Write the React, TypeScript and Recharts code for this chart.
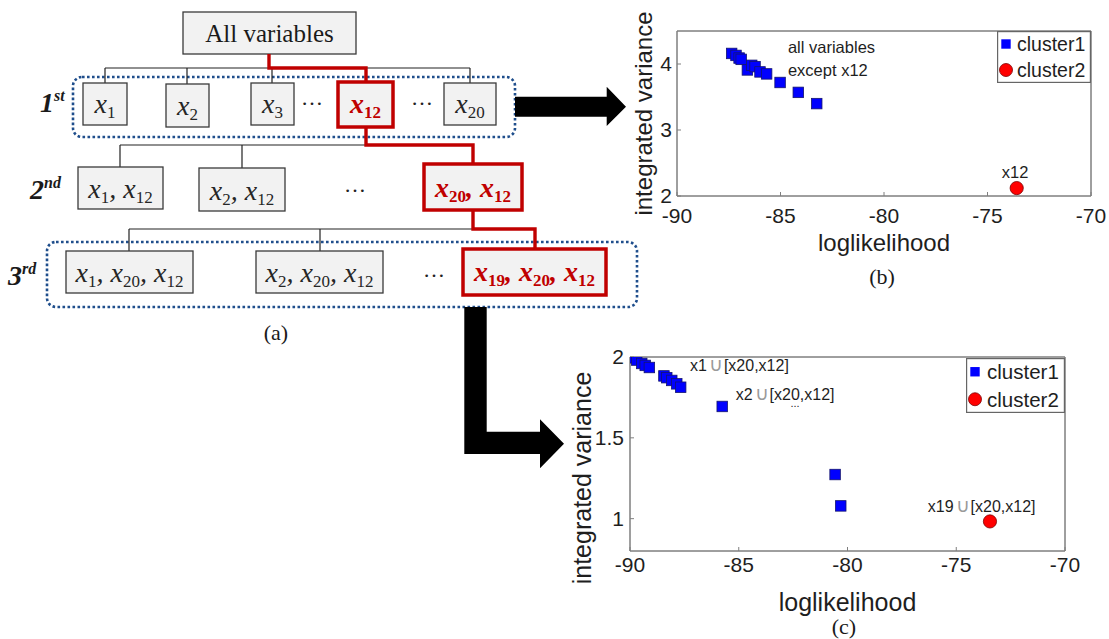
import React from "react";
import { ScatterChart, Scatter, XAxis, YAxis, Legend, ReferenceDot, ReferenceArea } from "recharts";

// (b) first step: every variable removed on its own
const stepOneCluster1 = [
  { x: -87.36, y: 4.16 },
  { x: -87.15, y: 4.13 },
  { x: -87.0, y: 4.09 },
  { x: -86.9, y: 4.07 },
  { x: -86.6, y: 3.91 },
  { x: -86.39, y: 3.98 },
  { x: -86.23, y: 3.96 },
  { x: -85.99, y: 3.88 },
  { x: -85.67, y: 3.85 },
  { x: -85.02, y: 3.72 },
  { x: -84.14, y: 3.57 },
  { x: -83.25, y: 3.4 },
];
const stepOneCluster2 = [{ x: -73.59, y: 2.12 }];

// (c) third step
const stepThreeCluster1 = [
  { x: -89.88, y: 1.995 },
  { x: -89.69, y: 1.981 },
  { x: -89.46, y: 1.96 },
  { x: -89.3, y: 1.948 },
  { x: -89.11, y: 1.935 },
  { x: -88.44, y: 1.883 },
  { x: -88.31, y: 1.872 },
  { x: -88.08, y: 1.855 },
  { x: -87.85, y: 1.834 },
  { x: -87.67, y: 1.813 },
  { x: -85.76, y: 1.694 },
  { x: -80.57, y: 1.273 },
  { x: -80.31, y: 1.079 },
];
const stepThreeCluster2 = [{ x: -73.45, y: 0.983 }];

const xTicks = [-90, -85, -80, -75, -70];
const xDomain = [-90, -70];
const yTicksB = [2, 3, 4];
const yDomainB = [2, 4.5];
const yTicksC = [1, 1.5, 2];
const yDomainC = [0.8, 2];

const notesB = [
  { x: -84.64, y: 4.25, text: "all variables", anchor: "start" },
  { x: -84.64, y: 3.91, text: "except x12", anchor: "start" },
  { x: -73.67, y: 2.36, text: "x12", anchor: "middle" },
];
const notesC = [
  { x: -87.24, y: 1.946, pre: "x1", post: "[x20,x12]" },
  { x: -85.14, y: 1.771, pre: "x2", post: "[x20,x12]" },
  { x: -76.31, y: 1.073, pre: "x19", post: "[x20,x12]" },
];

const SANS = "'Liberation Sans', Arial, sans-serif";
const SERIF = "'Liberation Serif', 'Times New Roman', serif";
const AXIS = "#7f7f7f";
const INK = "#1e1e1e";
const RED = "#c00000";
const BLUE_DOT = "#1f4e8c";

const SquareMark = (props: any) => {
  const { cx, cy } = props;
  const s = 10.5;
  return <rect x={cx - s / 2} y={cy - s / 2} width={s} height={s} fill="#0000ff" stroke="#14146e" strokeWidth={0.8} />;
};
const CircleMark = (props: any) => {
  const { cx, cy } = props;
  return <circle cx={cx} cy={cy} r={6.6} fill="#ff0000" stroke="#7a0000" strokeWidth={0.8} />;
};
const NoMark = () => <g />;

function LegendBox({ payload, w, h, fs, textX }: any) {
  const items = (payload || []).filter((p: any) => p.type !== "none");
  return (
    <svg width={w} height={h} style={{ display: "block" }}>
      <rect x={0.6} y={0.6} width={w - 1.2} height={h - 1.2} fill="#fff" stroke="#666" strokeWidth={1.2} />
      {items.map((p: any, i: number) => {
        const cy = (h / items.length) * (i + 0.5);
        return (
          <g key={p.value}>
            {p.type === "circle" ? (
              <circle cx={9} cy={cy} r={6.5} fill="#ff0000" stroke="#7a0000" strokeWidth={0.8} />
            ) : (
              <rect x={4.3} y={cy - 4.7} width={9.4} height={9.4} fill="#0000ff" />
            )}
            <text x={textX} y={cy + fs * 0.36} fontFamily={SANS} fontSize={fs} fill={INK}>{p.value}</text>
          </g>
        );
      })}
    </svg>
  );
}

const tickStyle = { fontFamily: SANS, fontSize: 21, fill: INK };

const yTitle = (fs: number, dxFromAxis: number, shift: number) => (lp: any) => {
  const vb = lp.viewBox;
  const x = vb.x + dxFromAxis;
  const y = vb.y + vb.height / 2 + shift;
  return (
    <text transform={`translate(${x},${y}) rotate(-90)`} textAnchor="middle" dy="0.3em" fontFamily={SANS} fontSize={fs} fill={INK}>
      integrated variance
    </text>
  );
};

const unionNote = (n: { pre: string; post: string }) => (lp: any) => (
  <text x={lp.viewBox.x} y={lp.viewBox.y + 5.5} fontFamily={SANS} fontSize={16} fill={INK}>
    {n.pre}
    <tspan fill="#9a9a9a" fontSize={19} dx={2}>∪</tspan>
    <tspan dx={1}>{n.post}</tspan>
  </text>
);

function ChartB() {
  return (
    <ScatterChart width={519} height={300} margin={{ top: 30, right: 17, left: 0, bottom: 44 }}>
      <XAxis type="number" dataKey="x" domain={xDomain} ticks={xTicks} allowDataOverflow stroke={AXIS} tickSize={-4} tickMargin={16} height={60} tick={tickStyle}
        label={{ value: "loglikelihood", position: "insideBottom", offset: 5, style: { fontFamily: SANS, fontSize: 24, fill: INK } }} />
      <XAxis xAxisId="top" orientation="top" type="number" dataKey="x" domain={xDomain} ticks={xTicks} allowDataOverflow stroke={AXIS} tickSize={-4} tick={false} height={1} />
      <YAxis type="number" dataKey="y" domain={yDomainB} ticks={yTicksB} allowDataOverflow stroke={AXIS} tickSize={-4} tickMargin={9} width={87} tick={tickStyle}
        label={{ position: "insideLeft", content: yTitle(24, 55, 0) }} />
      <YAxis yAxisId="right" orientation="right" type="number" dataKey="y" domain={yDomainB} ticks={yTicksB} allowDataOverflow stroke={AXIS} tickSize={-4} tick={false} width={1} />
      <ReferenceArea x1={xDomain[0]} x2={xDomain[1]} y1={yDomainB[0]} y2={yDomainB[1]} fill="none" stroke={AXIS} strokeWidth={1} />
      <Legend layout="vertical" align="center" verticalAlign="middle" wrapperStyle={{ left: 407, top: 31, width: 94, height: 52 }}
        content={(p: any) => <LegendBox payload={p.payload} w={94} h={52} fs={19.5} textX={20} />} />
      <Scatter name="cluster1" data={stepOneCluster1} legendType="square" fill="#0000ff" shape={SquareMark} isAnimationActive={false} />
      <Scatter name="cluster2" data={stepOneCluster2} legendType="circle" fill="#ff0000" shape={CircleMark} isAnimationActive={false} />
      <Scatter name="frame" data={stepOneCluster2} xAxisId="top" yAxisId="right" legendType="none" shape={NoMark} isAnimationActive={false} />
      {notesB.map((n) => (
        <ReferenceDot key={n.text} x={n.x} y={n.y} r={0} stroke="none" fill="none"
          label={{ value: n.text, position: n.anchor === "start" ? "insideLeft" : "center", offset: 0, style: { fontFamily: SANS, fontSize: 16.5, fill: INK } }} />
      ))}
    </ScatterChart>
  );
}

function ChartC() {
  return (
    <ScatterChart width={569} height={309} margin={{ top: 26, right: 43, left: 0, bottom: 28 }}>
      <XAxis type="number" dataKey="x" domain={xDomain} ticks={xTicks} allowDataOverflow stroke={AXIS} tickSize={-4} tickMargin={10} height={60} tick={tickStyle}
        label={{ value: "loglikelihood", position: "insideBottom", offset: 0, style: { fontFamily: SANS, fontSize: 25, fill: INK } }} />
      <XAxis xAxisId="top" orientation="top" type="number" dataKey="x" domain={xDomain} ticks={xTicks} allowDataOverflow stroke={AXIS} tickSize={-4} tick={false} height={1} />
      <YAxis type="number" dataKey="y" domain={yDomainC} ticks={yTicksC} allowDataOverflow stroke={AXIS} tickSize={-4} tickMargin={10} width={90} tick={tickStyle}
        label={{ position: "insideLeft", content: yTitle(25, 43, 24) }} />
      <YAxis yAxisId="right" orientation="right" type="number" dataKey="y" domain={yDomainC} ticks={yTicksC} allowDataOverflow stroke={AXIS} tickSize={-4} tick={false} width={1} />
      <ReferenceArea x1={xDomain[0]} x2={xDomain[1]} y1={yDomainC[0]} y2={yDomainC[1]} fill="none" stroke={AXIS} strokeWidth={1} />
      <Legend layout="vertical" align="center" verticalAlign="middle" wrapperStyle={{ left: 426, top: 28, width: 99, height: 55 }}
        content={(p: any) => <LegendBox payload={p.payload} w={99} h={55} fs={20.5} textX={21} />} />
      <Scatter name="cluster1" data={stepThreeCluster1} legendType="square" fill="#0000ff" shape={SquareMark} isAnimationActive={false} />
      <Scatter name="cluster2" data={stepThreeCluster2} legendType="circle" fill="#ff0000" shape={CircleMark} isAnimationActive={false} />
      <Scatter name="frame" data={stepThreeCluster2} xAxisId="top" yAxisId="right" legendType="none" shape={NoMark} isAnimationActive={false} />
      {notesC.map((n) => (
        <ReferenceDot key={n.pre} x={n.x} y={n.y} r={0} stroke="none" fill="none"
          label={{ position: "insideLeft", offset: 0, content: unionNote(n) }} />
      ))}
      <ReferenceDot x={-82.41} y={1.715} r={0} stroke="none" fill="none"
        label={{ value: "...", position: "center", style: { fontFamily: SANS, fontSize: 11, fill: INK } }} />
    </ScatterChart>
  );
}

// ---- tree diagram (a) ----
function VarText({ x, y, subs, red }: { x: number; y: number; subs: string[]; red?: boolean }) {
  const fill = red ? RED : "#262626";
  return (
    <text x={x} y={y} textAnchor="middle" fontFamily={SERIF} fontStyle="italic" fontWeight={red ? "bold" : "normal"} fontSize={28} fill={fill}>
      {subs.map((s, i) => (
        <React.Fragment key={i}>
          {i > 0 && <tspan dy={-5}>, </tspan>}
          <tspan>x</tspan>
          <tspan fontSize={17} fontStyle="normal" dy={5}>{s}</tspan>
        </React.Fragment>
      ))}
    </text>
  );
}

function Box({ x, y, w, h, red }: { x: number; y: number; w: number; h: number; red?: boolean }) {
  return <rect x={x} y={y} width={w} height={h} fill="#f2f2f2" stroke={red ? RED : "#3a3a3a"} strokeWidth={red ? 3.5 : 1.3} />;
}

function Ordinal({ x, y, n, sup }: { x: number; y: number; n: string; sup: string }) {
  return (
    <text x={x} y={y} fontFamily={SERIF} fontStyle="italic" fontWeight="bold" fontSize={28} fill="#1a1a1a">
      {n}
      <tspan fontSize={16} dy={-11}>{sup}</tspan>
    </text>
  );
}

function Tree() {
  const dots = (x: number, y: number) => (
    <text x={x} y={y} textAnchor="middle" fontFamily={SERIF} fontSize={22} fill="#222">…</text>
  );
  return (
    <svg width={1109} height={639} style={{ position: "absolute", left: 0, top: 0, pointerEvents: "none" }}>
      {/* dotted groups */}
      <rect x={73} y={77} width={442} height={60} rx={9} fill="none" stroke={BLUE_DOT} strokeWidth={2.6} strokeDasharray="2.6 2.4" />
      <rect x={47} y={242} width={590} height={65} rx={9} fill="none" stroke={BLUE_DOT} strokeWidth={2.6} strokeDasharray="2.6 2.4" />

      {/* thin connectors */}
      <path d="M105,68 H470 M105,68 V83 M187,68 V84 M272,68 V83 M470,68 V83" stroke="#222" strokeWidth={1.2} fill="none" />
      <path d="M120,145 H366 M120,145 V167 M242,145 V168" stroke="#222" strokeWidth={1.2} fill="none" />
      <path d="M129,229 H473 M129,229 V251 M320,229 V251" stroke="#222" strokeWidth={1.2} fill="none" />

      {/* root */}
      <Box x={183} y={12} w={173} h={42} />
      <text x={269.5} y={42} textAnchor="middle" fontFamily={SERIF} fontSize={25} fill="#1a1a1a">All variables</text>

      {/* level 1 */}
      <Box x={83} y={83} w={44} h={42} />
      <VarText x={105} y={113} subs={["1"]} />
      <Box x={166} y={84} w={43} h={43} />
      <VarText x={187.5} y={115} subs={["2"]} />
      <Box x={251} y={83} w={43} h={42} />
      <VarText x={272.5} y={113} subs={["3"]} />
      {dots(312, 105)}
      <Box x={338} y={82} w={55} h={45} red />
      <VarText x={365.5} y={113} subs={["12"]} red />
      {dots(422, 105)}
      <Box x={444} y={83} w={52} h={42} />
      <VarText x={470} y={113} subs={["20"]} />
      <Ordinal x={40} y={112} n="1" sup="st" />

      {/* level 2 */}
      <Box x={78} y={167} w={85} h={42} />
      <VarText x={120.5} y={198} subs={["1", "12"]} />
      <Box x={199} y={168} w={86} h={43} />
      <VarText x={242} y={199.5} subs={["2", "12"]} />
      {dots(355, 192)}
      <Box x={424} y={164} w={98} h={46} red />
      <VarText x={473} y={197} subs={["20", "12"]} red />
      <Ordinal x={30} y={199} n="2" sup="nd" />

      {/* level 3 */}
      <Box x={66} y={251} w={127} h={42} />
      <VarText x={129.5} y={282} subs={["1", "20", "12"]} />
      <Box x={256} y={251} w={127} h={42} />
      <VarText x={319.5} y={282} subs={["2", "20", "12"]} />
      {dots(434, 277)}
      <Box x={463} y={249} w={143} h={46} red />
      <VarText x={534.5} y={281} subs={["19", "20", "12"]} red />
      <Ordinal x={8} y={285} n="3" sup="rd" />

      {/* highlighted path */}
      <path d="M269,54 V68 H366 V82" stroke={RED} strokeWidth={3.4} fill="none" />
      <path d="M366,127 V145 H473 V164" stroke={RED} strokeWidth={3.4} fill="none" />
      <path d="M473,210 V229 H535 V249" stroke={RED} strokeWidth={3.4} fill="none" />

      {/* arrows */}
      <polygon points="515,96.7 606.7,96.7 606.7,86.7 626,106.7 606.7,126 606.7,116.7 515,116.7" fill="#000" />
      <polygon points="464.3,307 486.7,307 486.7,431.7 540,431.7 540,419.3 564,443.8 540,468.3 540,454 464.3,454" fill="#000" />

      {/* captions */}
      <text x={276} y={340} textAnchor="middle" fontFamily={SERIF} fontSize={22} fill="#1a1a1a">(a)</text>
      <text x={882} y={284} textAnchor="middle" fontFamily={SERIF} fontSize={22} fill="#1a1a1a">(b)</text>
      <text x={844} y={634} textAnchor="middle" fontFamily={SERIF} fontSize={22} fill="#1a1a1a">(c)</text>
    </svg>
  );
}

export default function App() {
  return (
    <div style={{ position: "absolute", left: 0, top: 0, width: 1109, height: 639, background: "#fff", overflow: "hidden" }}>
      <div style={{ position: "absolute", left: 590, top: 0 }}>
        <ChartB />
      </div>
      <div style={{ position: "absolute", left: 540, top: 330 }}>
        <ChartC />
      </div>
      <Tree />
    </div>
  );
}
